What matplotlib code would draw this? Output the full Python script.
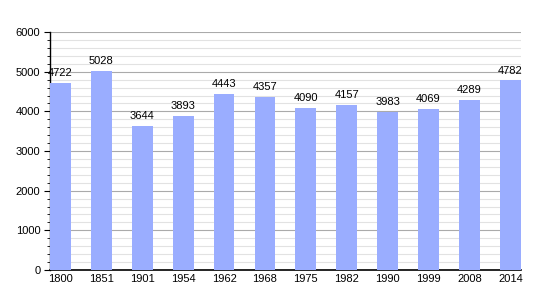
import matplotlib
matplotlib.use("Agg")
import matplotlib.pyplot as plt
from matplotlib.ticker import MultipleLocator

years = ["1800", "1851", "1901", "1954", "1962", "1968", "1975", "1982", "1990", "1999", "2008", "2014"]
population = [4722, 5028, 3644, 3893, 4443, 4357, 4090, 4157, 3983, 4069, 4289, 4782]

plt.rcParams['font.family'] = ['Liberation Sans', 'DejaVu Sans']
fig = plt.figure(figsize=(5.5, 3), dpi=100)
ax = fig.add_axes([0.0909, 0.1, 0.856, 0.793])

w = 0.51
x = list(range(len(years)))
bars = ax.bar([i + w / 2 for i in x], population, width=w, color="#9aadff", zorder=3)
for b, v in zip(bars, population):
    ax.annotate(str(v), (b.get_x() + b.get_width() / 2, v), xytext=(0, 3.5),
                textcoords="offset points", ha="center", va="bottom", fontsize=8, zorder=4)

ax.set_xlim(0, len(years) - 1 + w)
ax.set_ylim(0, 6000)
ax.set_xticks([i + w / 2 for i in x])
ax.set_xticklabels(years, fontsize=8)
ax.tick_params(axis='x', length=0, pad=3)
ax.yaxis.set_major_locator(MultipleLocator(1000))
ax.yaxis.set_minor_locator(MultipleLocator(200))
ax.tick_params(axis='y', which='major', length=4, labelsize=8, pad=3)
ax.tick_params(axis='y', which='minor', length=2.5)
ax.grid(axis='y', which='minor', color="#e2e2e2", linewidth=0.8, zorder=0)
ax.grid(axis='y', which='major', color="#aaaaaa", linewidth=0.8, zorder=1)
for s in ["top", "right"]:
    ax.spines[s].set_visible(False)
ax.spines["left"].set_linewidth(1.0)
ax.spines["bottom"].set_linewidth(1.2)

fig.savefig("out.png", dpi=100)
